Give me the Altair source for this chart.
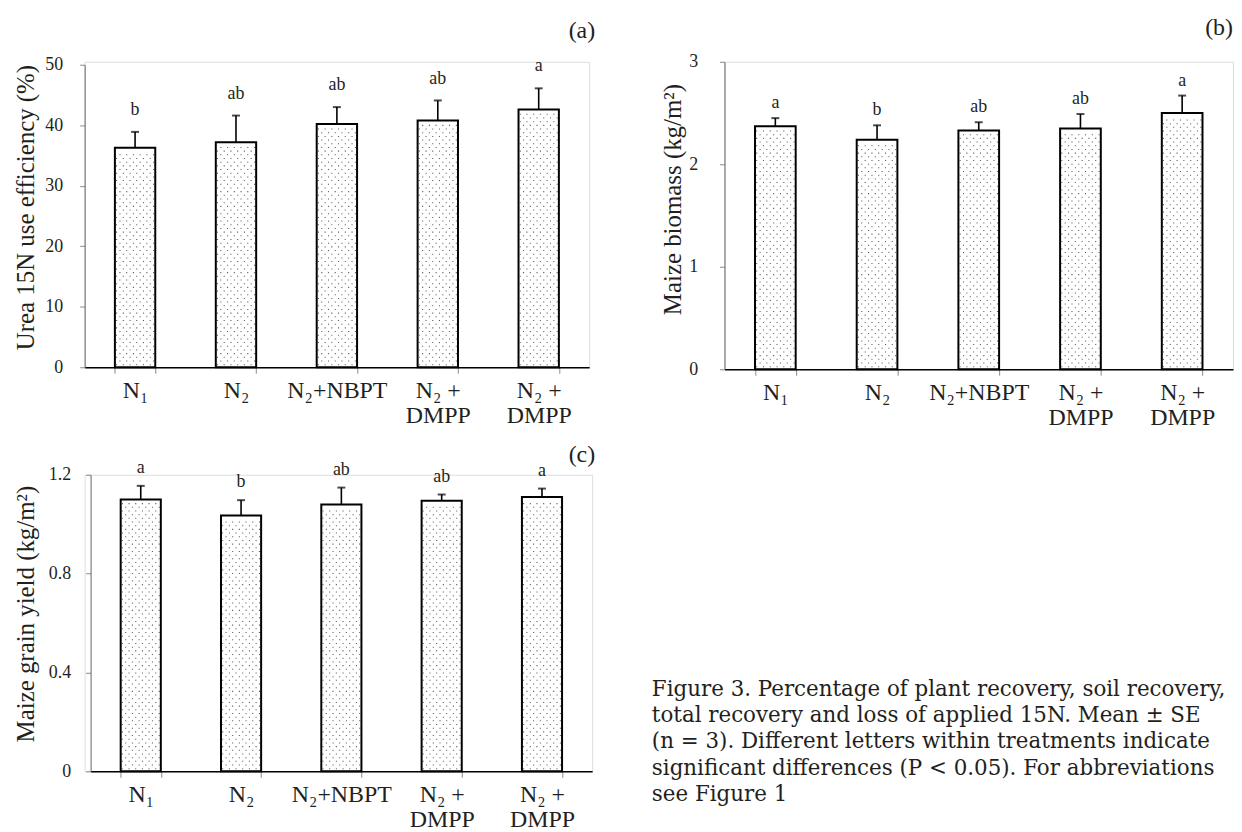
import json
import altair as alt
import pandas as pd

# ---------------- data ----------------
treat_labels = ["N₁", "N₂", "N₂+NBPT", "N₂ +|DMPP", "N₂ +|DMPP"]

nue_mean = [36.3, 37.2, 40.2, 40.8, 42.6]
nue_se = [2.6, 4.4, 2.8, 3.3, 3.5]
nue_letters = ["b", "ab", "ab", "ab", "a"]

bio_mean = [2.37, 2.24, 2.33, 2.35, 2.50]
bio_se = [0.08, 0.14, 0.08, 0.14, 0.17]
bio_letters = ["a", "b", "ab", "ab", "a"]

grain_mean = [1.100, 1.035, 1.080, 1.095, 1.110]
grain_se = [0.055, 0.062, 0.068, 0.025, 0.034]
grain_letters = ["a", "b", "ab", "ab", "a"]

caption_lines = [
    "Figure 3. Percentage of plant recovery, soil recovery,",
    "total recovery and loss of applied 15N. Mean ± SE",
    "(n = 3). Different letters within treatments indicate",
    "significant differences (P < 0.05). For abbreviations",
    "see Figure 1",
]

SERIF = "Liberation Serif"
TXT = "#231f20"
GRID_GRAY = "#8a8a8a"

label_expr = ("isNumber(datum.value) ? split(" + json.dumps(treat_labels, ensure_ascii=False)
              + "[datum.value], '|') : ''")


def panel(mean, se, letters, ylab, ymax, yticks, width, height, yrange,
          xrange, yoffset, label_pad, title_x, title_y, letter_gap, tag,
          tag_dx, tag_offset, extra=None):
    df = pd.DataFrame({
        "pos": list(range(len(mean))),
        "value": mean,
        "upper": [m + s for m, s in zip(mean, se)],
        "letter": letters,
    })
    xr = xrange if xrange else [0, width]
    px_per_unit = (yrange[0] - yrange[1]) / ymax if yrange else height / ymax
    step = 3.7 / px_per_unit

    xscale = alt.Scale(paddingInner=0.6, paddingOuter=0.3, **({"range": xrange} if xrange else {}))
    yscale = alt.Scale(domain=[0, ymax], nice=False, zero=True, **({"range": yrange} if yrange else {}))

    xaxis = alt.Axis(
        title=None, labelAngle=0, labelFont=SERIF, labelFontSize=24, labelColor=TXT,
        labelExpr=label_expr, labelLineHeight=26, labelPadding=5, labelBaseline="top",
        labelOverlap=False, tickBand="extent", tickSize=6, tickColor=GRID_GRAY,
        tickWidth=1, domainColor="black", domainWidth=1.5,
    )
    yaxis = alt.Axis(
        values=yticks, format="~r", labelFont=SERIF, labelFontSize=18, labelColor=TXT,
        labelPadding=label_pad, tickSize=5, tickColor=GRID_GRAY, domainColor="#666666",
        domainWidth=1, grid=False, titleFont=SERIF, titleFontSize=25,
        titleFontWeight="normal", titleColor=TXT, titleX=title_x, titleY=title_y,
        titleBaseline="middle", titleAngle=270, offset=yoffset,
    )

    def X():
        return alt.X("pos:O", scale=xscale, axis=xaxis)

    def Y(field):
        return alt.Y(field, scale=yscale, axis=yaxis, title=ylab)

    base = alt.Chart(df)
    bars = base.mark_bar(fill="white", stroke="black", strokeWidth=2).encode(
        x=X(), y=Y("value:Q"))
    stems = base.mark_rule(color="black", strokeWidth=1.6).encode(
        x=X(), y=Y("value:Q"), y2="upper:Q")
    caps = base.mark_tick(orient="horizontal", size=8, thickness=2, color="black").encode(
        x=X(), y=Y("upper:Q"))
    lett = base.mark_text(font=SERIF, fontSize=18, color=TXT, baseline="alphabetic",
                          dy=-letter_gap).encode(x=X(), y=Y("upper:Q"), text="letter:N")
    main = alt.layer(bars, stems, caps, lett)

    # stippled texture of the bars, generated from each bar's own value
    dots = base.transform_calculate(
        r=f"sequence(0, max(0, floor(datum.value / {step} - 0.7)))"
    ).transform_flatten(["r"]).transform_calculate(
        k="sequence(0, 6)"
    ).transform_flatten(["k"]).transform_calculate(
        dy=f"(datum.r + 0.7) * {step}",
        xq="datum.pos + 0.3 + 0.4 * (datum.k + 0.25 + 0.5 * (datum.r % 2)) / 6",
    ).mark_square(size=1.1, color="#222222", opacity=0.75).encode(
        x=alt.X("xq:Q", scale=alt.Scale(domain=[0, 5], range=xr, nice=False, zero=False), axis=None),
        y=Y("dy:Q"),
    )

    layers = [main, dots]
    if extra is not None:
        layers.append(extra)
    return alt.layer(*layers).resolve_scale(x="independent").properties(
        width=width, height=height,
        title=alt.TitleParams(tag, anchor="end", font=SERIF, fontSize=24,
                              fontWeight="normal", color=TXT, frame="group",
                              dx=tag_dx, offset=tag_offset, baseline="bottom"),
    )


pa = panel(nue_mean, nue_se, nue_letters, "Urea 15N use efficiency (%)", 50,
           [0, 10, 20, 30, 40, 50], 507, 307, [307, 3], None, 0, 17, -59, 146,
           17, "(a)", 6, -11)

pb = panel(bio_mean, bio_se, bio_letters, "Maize biomass (kg/m²)", 3,
           [0, 1, 2, 3], 511, 309, None, None, 0, 22, -52, 138,
           10, "(b)", 0, -11)

caption = alt.Chart(pd.DataFrame({"n": [0]})).mark_text(
    font="DejaVu Serif", fontSize=21.5, color=TXT, align="left",
    baseline="alphabetic", lineHeight=26.5, limit=580, ellipsis=" ",
).encode(x=alt.value(570), y=alt.value(222), text=alt.value(caption_lines))

pc = panel(grain_mean, grain_se, grain_letters, "Maize grain yield (kg/m²)", 1.2,
           [0, 0.4, 0.8, 1.2], 510, 298, None, [6, 510], -6, 15, -65, 139.5,
           13, "(c)", 3, -32, extra=caption)

chart = alt.concat(pa, pb, pc, columns=2, spacing={"row": 106, "column": 133}).properties(
    align="none", bounds="flush",
    padding={"left": 5, "top": 5, "right": 0, "bottom": 0},
).configure_view(stroke=None).configure(background="white")

chart.save("out.html", embed_options={"renderer": "svg", "actions": False})
